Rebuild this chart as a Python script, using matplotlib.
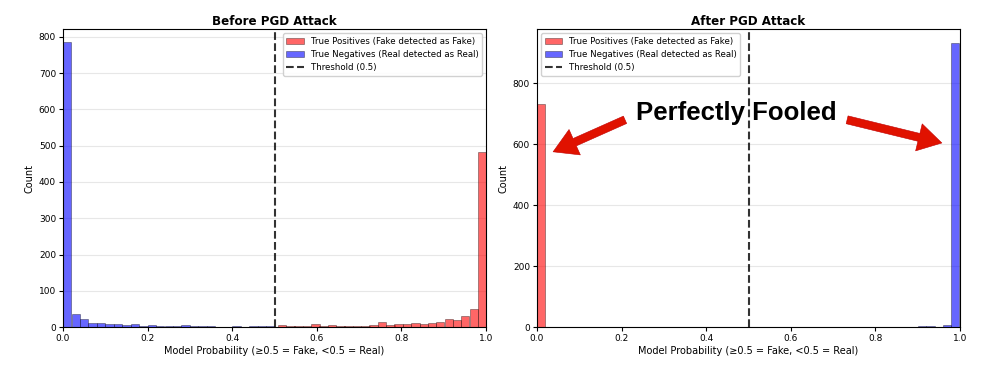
import matplotlib
matplotlib.use("Agg")
import matplotlib.pyplot as plt

# --- Before PGD: bin left edges and counts ---
before_real_edges = [0.00, 0.02, 0.04, 0.06, 0.08, 0.10, 0.12, 0.14, 0.16, 0.18,
                     0.20, 0.22, 0.24, 0.26, 0.28, 0.30, 0.32, 0.34, 0.36, 0.38,
                     0.40, 0.42, 0.44, 0.46, 0.48]
before_real_counts = [785, 37, 23, 12, 12, 7, 7, 5, 8, 2,
                      5, 4, 4, 2, 5, 4, 2, 2, 1, 1,
                      2, 1, 2, 3, 3]
before_fake_edges = [0.508, 0.528, 0.547, 0.567, 0.587, 0.606, 0.626, 0.646, 0.665, 0.685,
                     0.705, 0.724, 0.744, 0.764, 0.783, 0.803, 0.823, 0.843, 0.862, 0.882,
                     0.902, 0.921, 0.941, 0.961, 0.980]
before_fake_counts = [5, 3, 3, 3, 8, 3, 6, 4, 4, 3,
                      4, 5, 13, 6, 9, 8, 12, 9, 11, 13,
                      22, 18, 29, 50, 482]

# --- After PGD ---
after_fake_edges = [0.00, 0.49, 0.59]
after_fake_counts = [732, 1, 1]
after_real_edges = [0.90, 0.92, 0.96, 0.978]
after_real_counts = [2, 2, 8, 933]

BIN_W = 0.0197
RED = 'red'
BLUE = 'blue'

plt.rcParams['font.family'] = 'DejaVu Sans'

fig = plt.figure(figsize=(9.96, 3.70), dpi=100)
ax1 = fig.add_axes([0.0633, 0.1162, 0.4247, 0.8054])
ax2 = fig.add_axes([0.5392, 0.1162, 0.4247, 0.8054])


def draw(ax, title, fake_e, fake_c, real_e, real_c, loc):
    b1 = ax.bar(fake_e, fake_c, width=BIN_W, align='edge', color=RED, alpha=0.6,
                edgecolor='black', linewidth=0.4)
    b2 = ax.bar(real_e, real_c, width=BIN_W, align='edge', color=BLUE, alpha=0.6,
                edgecolor='black', linewidth=0.4)
    ln = ax.axvline(0.5, color='black', linestyle='--', linewidth=1.5, alpha=0.8)
    ax.set_xlim(0, 1)
    ax.set_title(title, fontsize=8.6, fontweight='bold', pad=3)
    ax.set_xlabel('Model Probability (≥0.5 = Fake, <0.5 = Real)', fontsize=7, labelpad=2)
    ax.set_ylabel('Count', fontsize=7, labelpad=3)
    ax.tick_params(labelsize=6.5, length=3, pad=2)
    ax.grid(axis='y', alpha=0.3)
    ax.set_axisbelow(True)
    ax.legend([b1, b2, ln],
              ['True Positives (Fake detected as Fake)',
               'True Negatives (Real detected as Real)',
               'Threshold (0.5)'],
              loc=loc, fontsize=6.2, framealpha=0.9)


draw(ax1, 'Before PGD Attack', before_fake_edges, before_fake_counts,
     before_real_edges, before_real_counts, 'upper right')
draw(ax2, 'After PGD Attack', after_fake_edges, after_fake_counts,
     after_real_edges, after_real_counts, 'upper left')
ax1.set_ylim(0, 822)
ax1.set_yticks(range(0, 801, 100))
ax2.set_ylim(0, 978)
ax2.set_yticks(range(0, 801, 200))

# annotation
ax2.text(0.47, 703, 'Perfectly Fooled', ha='center', va='center', fontsize=18.5,
         fontweight='bold', family='Liberation Sans', color='black')
arrow = dict(arrowstyle='simple,head_width=2.0,head_length=1.7,tail_width=0.58',
             mutation_scale=10, facecolor='#e01200', edgecolor='#c00000', lw=0.4,
             shrinkA=0, shrinkB=0)
ax2.annotate('', xy=(0.038, 575), xytext=(0.208, 680), arrowprops=arrow)
ax2.annotate('', xy=(0.957, 604), xytext=(0.733, 680), arrowprops=arrow)

fig.savefig('out.png', dpi=100)
